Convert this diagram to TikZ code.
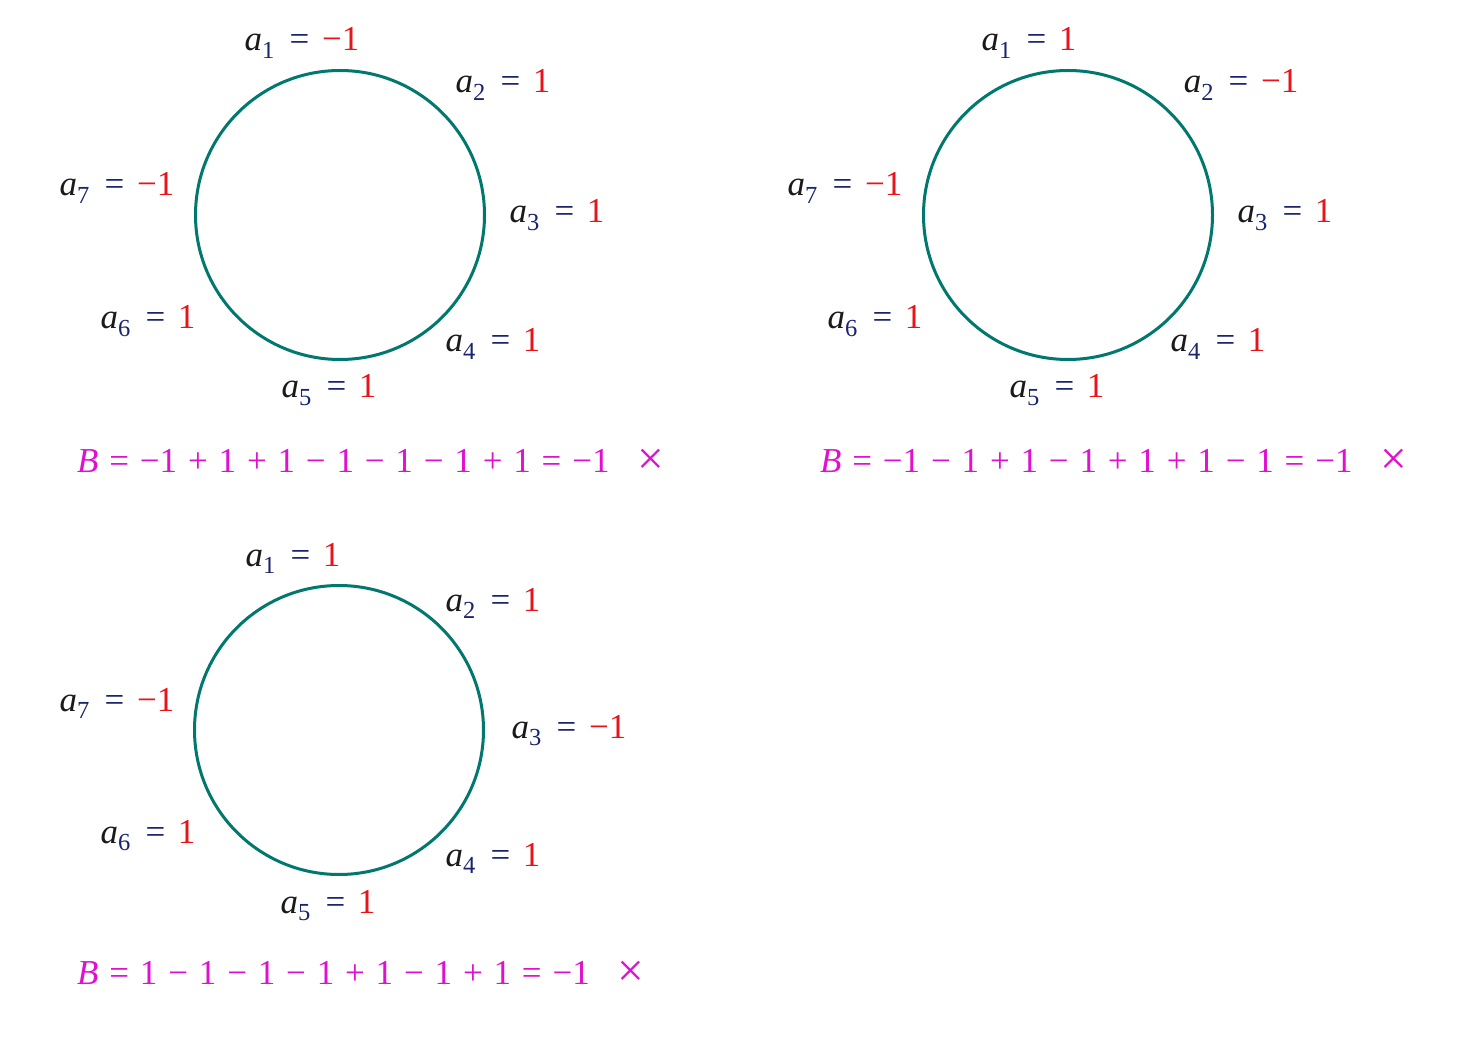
\documentclass[tikz,border=0pt]{standalone}
\usepackage{fontspec}
\setmainfont{Liberation Serif}
\definecolor{ring}{HTML}{00786E}
\definecolor{valred}{HTML}{E8141A}
\definecolor{idx}{HTML}{1A2370}
\definecolor{ink}{HTML}{1A1A1A}
\definecolor{sumc}{HTML}{E010D0}
\newcommand\albl[2]{{\color{ink}\textit{a}}{\color{idx}\textsubscript{#1}\hspace{0.42em}=\hspace{0.36em}}{\color{valred}#2}}
\newcommand\cross{\raisebox{-0.07em}{\scalebox{1.35}{×}}}
\newcommand\widesp{\spaceskip=0.31em\relax}
\tikzset{
  ring/.style={circle,draw=ring,line width=3pt,minimum size=289pt,inner sep=0pt},
  lbl/.style={anchor=base,inner sep=0pt,font=\fontsize{35}{40}\selectfont},
  sumline/.style={anchor=base west,inner sep=0pt,text=sumc,font=\fontsize{35}{40}\selectfont}
}
\begin{document}
\begin{tikzpicture}[x=1pt,y=-1pt]
\path[fill=white] (0,0) rectangle (1478,1064);
\useasboundingbox (0,0) rectangle (1478,1064);
% circle 1
\node[ring] (c1) at (340,215) {};
\node[lbl] (c1a1) at (302,51) {\albl{1}{−1}};
\node[lbl] (c1a2) at (503,93) {\albl{2}{1}};
\node[lbl] (c1a3) at (557,223) {\albl{3}{1}};
\node[lbl] (c1a4) at (493,352) {\albl{4}{1}};
\node[lbl] (c1a5) at (329,398) {\albl{5}{1}};
\node[lbl] (c1a6) at (148,329) {\albl{6}{1}};
\node[lbl] (c1a7) at (117,196) {\albl{7}{−1}};
\node[sumline] (b1) at (77,472) {\widesp\textit{B} = −1 + 1 + 1 − 1 − 1 − 1 + 1 = −1\hspace{0.8em}\cross};
% circle 2
\node[ring] (c2) at (1068,215) {};
\node[lbl] (c2a1) at (1029,51) {\albl{1}{1}};
\node[lbl] (c2a2) at (1241,93) {\albl{2}{−1}};
\node[lbl] (c2a3) at (1285,223) {\albl{3}{1}};
\node[lbl] (c2a4) at (1218,352) {\albl{4}{1}};
\node[lbl] (c2a5) at (1057,398) {\albl{5}{1}};
\node[lbl] (c2a6) at (875,329) {\albl{6}{1}};
\node[lbl] (c2a7) at (845,196) {\albl{7}{−1}};
\node[sumline] (b2) at (820,472) {\widesp\textit{B} = −1 − 1 + 1 − 1 + 1 + 1 − 1 = −1\hspace{0.8em}\cross};
% circle 3
\node[ring] (c3) at (339,730) {};
\node[lbl] (c3a1) at (293,566) {\albl{1}{1}};
\node[lbl] (c3a2) at (493,611) {\albl{2}{1}};
\node[lbl] (c3a3) at (569,738) {\albl{3}{−1}};
\node[lbl] (c3a4) at (493,866) {\albl{4}{1}};
\node[lbl] (c3a5) at (328,913) {\albl{5}{1}};
\node[lbl] (c3a6) at (148,843) {\albl{6}{1}};
\node[lbl] (c3a7) at (117,711) {\albl{7}{−1}};
\node[sumline] (b3) at (77,984) {\widesp\textit{B} = 1 − 1 − 1 − 1 + 1 − 1 + 1 = −1\hspace{0.8em}\cross};
\end{tikzpicture}
\end{document}
